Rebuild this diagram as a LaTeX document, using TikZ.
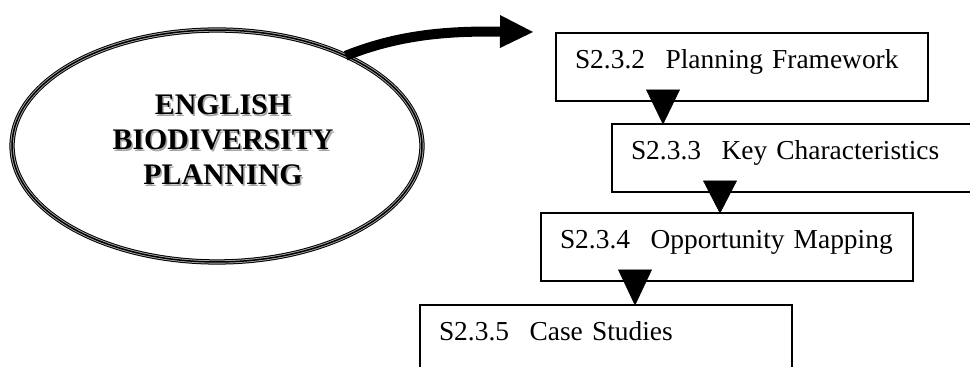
\documentclass[tikz,border=0pt]{standalone}
\usepackage{fontspec}
\setmainfont{Liberation Serif}
\usetikzlibrary{arrows.meta,calc,shapes.geometric}

\newcommand{\secline}[2]{\mbox{#1\hspace{0.75em}#2}}

\begin{document}
\begin{tikzpicture}[x=0.02cm,y=-0.02cm,
  secbox/.style={draw,line width=0.75pt,rectangle,anchor=north west,
    minimum width=7.44cm,text width=6.68cm,align=left,
    inner xsep=0.38cm,inner ysep=0pt,outer sep=0pt,
    text height=0.72cm,text depth=0.64cm,
    font=\fontsize{15.6}{18}\selectfont},
  flowtip/.style={fill=black,draw=black,line width=0.3pt,line join=miter},
  bigarrow/.style={line width=5.7pt,
    -{Triangle[length=0.66cm,width=0.66cm,line width=0pt]}},
  ebpring/.style={ellipse,minimum width=8.2cm,minimum height=4.64cm,
    inner sep=0pt,outer sep=0pt,
    preaction={draw=black,line width=3pt},
    draw=gray!65,line width=0.5pt,double=black,double distance=0.85pt},
  ebptext/.style={align=center,inner sep=0pt,
    font=\fontsize{17}{19.9}\selectfont\bfseries}]
  \useasboundingbox (0,0) rectangle (970,367);
  \clip (0,0) rectangle (970,367);

  % ellipse with the title (shadowed text)
  \node[ebpring] (ebp) at (217,146) {};
  \node[ebptext,text=gray!70] (ebpshade) at (224.5,141.5) {ENGLISH\\BIODIVERSITY\\PLANNING};
  \node[ebptext] (ebpt) at (223,140) {ENGLISH\\BIODIVERSITY\\PLANNING};

  % section boxes
  \node[secbox] (s232) at (556,33) {\secline{S2.3.2}{Planning Framework}};
  \node[secbox] (s233) at (612,124) {\secline{S2.3.3}{Key Characteristics}};
  \node[secbox] (s234) at (541,213) {\secline{S2.3.4}{Opportunity Mapping}};
  \node[secbox,text depth=2cm] (s235) at (420,305) {\secline{S2.3.5}{Case Studies}};

  % big curved arrow
  \draw[bigarrow] (ebp.35) .. controls (400,34) and (450,31) .. (533,32);

  % triangles between the boxes
  \coordinate (t1) at ($(s233.north west)+(51,0)$);
  \coordinate (t2) at ($(s234.north west)+(179,0)$);
  \coordinate (t3) at ($(s235.north west)+(215,0)$);
  \foreach \tip/\upper in {t1/s232,t2/s233,t3/s234}
    \draw[flowtip] ($(\tip |- \upper.south)+(-16.5,-11)$)
      -- ($(\tip |- \upper.south)+(16.5,-11)$) -- (\tip) -- cycle;
\end{tikzpicture}
\end{document}
